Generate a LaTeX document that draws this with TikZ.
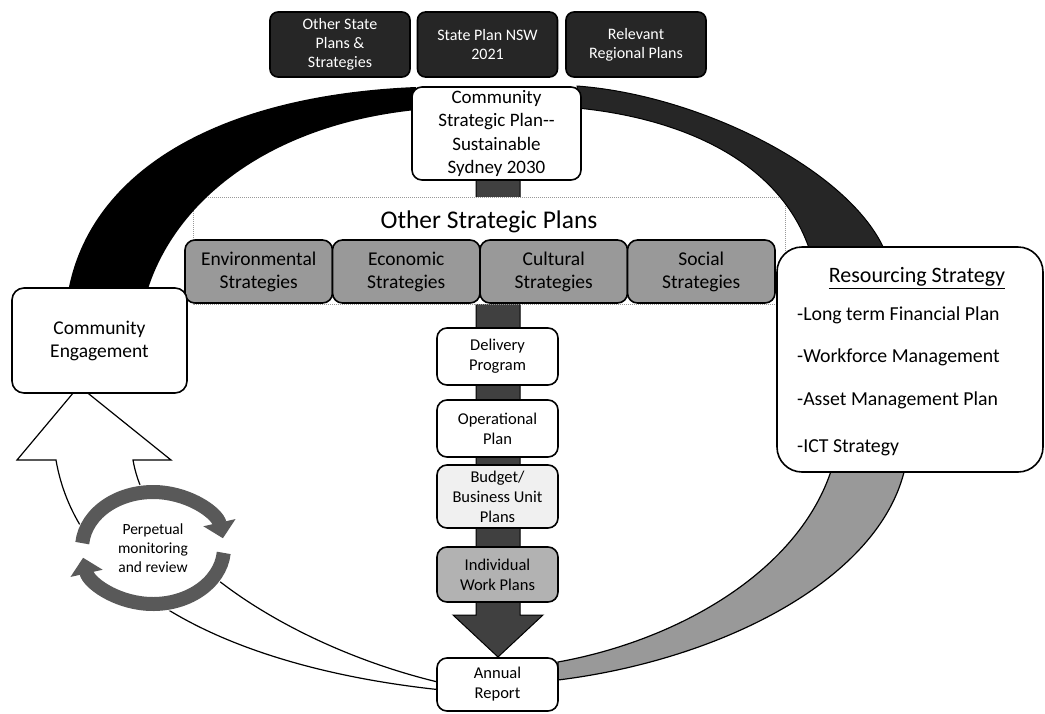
\documentclass[tikz,border=0pt]{standalone}
\usepackage{fontspec}
\setmainfont{Carlito}
\usetikzlibrary{arrows.meta}
\begin{document}
\begin{tikzpicture}[x=1pt,y=-1pt,
  rbox/.style={draw=black, line width=1.6pt, rounded corners=10pt, fill=white, align=center, inner sep=0pt},
  topbox/.style={rbox, fill=black!85, text=white, rounded corners=8pt, minimum width=140pt, minimum height=65pt, font=\fontsize{16}{19}\selectfont},
  stratbox/.style={rbox, fill=black!40, minimum width=147.5pt, minimum height=63pt, font=\fontsize{19.5}{23}\selectfont},
  colbox/.style={rbox, minimum width=121pt, font=\fontsize{16.5}{20}\selectfont},
  band/.style={draw=black, line width=1.2pt},
  ringarrow/.style={line width=14pt, draw=black!65, -{Triangle[width=32pt,length=16pt]}},
  restext/.style={anchor=west, inner sep=0pt, font=\fontsize{19.8}{24}\selectfont},
]
\useasboundingbox (0,0) rectangle (1045,713);

% central downward arrow (behind everything)
\filldraw[fill=black!75, draw=black, line width=1pt]
  (476,178) -- (476,615) -- (453,615) -- (498,657) -- (543,615) -- (520,615) -- (520,178) -- cycle;

% dotted container of the other strategic plans
\filldraw[densely dotted, draw=black!40, line width=1pt, fill=white] (193,197) rectangle (785,304);
\node[font=\fontsize{25.5}{30}\selectfont, inner sep=0pt] (osp) at (489,222) {Other Strategic Plans};

% band coordinates
\coordinate (b1o) at (68,292);  \coordinate (b1i) at (147,292);
\coordinate (b1e) at (416,87);  \coordinate (b1f) at (416,110);
\coordinate (b2s) at (577,86);  \coordinate (b2t) at (577,108);
\coordinate (b2o) at (885,251); \coordinate (b2i) at (810,251);
\coordinate (b3o) at (905,468); \coordinate (b3i) at (832,468);
\coordinate (b3e) at (558,680); \coordinate (b3f) at (558,662);
\coordinate (b4o) at (442,690); \coordinate (b4i) at (442,683);
\coordinate (hl) at (17,460); \coordinate (hr) at (171,460);
\coordinate (hs1) at (56,460); \coordinate (hs2) at (133,460);
\coordinate (apex) at (79,386);

% left black band: engagement -> strategic plan
\fill[black] (b1o) .. controls (90,170) and (220,95) .. (b1e) -- (b1f)
  .. controls (270,125) and (175,200) .. (b1i) -- cycle;
% top right band: strategic plan -> resourcing
\filldraw[fill=black!85, draw=black, line width=1pt] (b2s) .. controls (700,95) and (850,170) .. (b2o)
  -- (b2i) .. controls (780,160) and (680,118) .. (b2t) -- cycle;
% right gray band: resourcing -> annual report
\filldraw[fill=black!40, band] (b3o) .. controls (880,580) and (720,660) .. (b3e)
  -- (b3f) .. controls (680,640) and (800,570) .. (b3i) -- cycle;
% white band with block arrow: annual report -> engagement
\filldraw[fill=white, band] (b4o) .. controls (250,670) and (80,600) .. (hs1)
  -- (hl) -- (apex) -- (hr) -- (hs2) .. controls (150,560) and (300,650) .. (b4i) -- cycle;

% perpetual monitoring ring
\coordinate (rc) at (153,548);
\fill[white] (rc) ellipse [x radius=79, y radius=64];
\draw[ringarrow] (rc) ++(185:71 and 56) arc[start angle=185, end angle=350, x radius=71, y radius=56];
\draw[ringarrow] (rc) ++(5:71 and 56) arc[start angle=5, end angle=170, x radius=71, y radius=56];
\node[align=center, inner sep=0pt, font=\fontsize{15.5}{19}\selectfont] (pm) at (rc) {Perpetual\\monitoring\\and review};

% top boxes
\node[topbox] (osps) at (340,44.5) {Other State\\Plans \&\\Strategies};
\node[topbox] (spn) at (487.5,44.5) {State Plan NSW\\2021};
\node[topbox] (rrp) at (636,44.5) {Relevant\\Regional Plans};

% community strategic plan
\node[rbox, minimum width=169pt, minimum height=93pt, font=\fontsize{19}{23.5}\selectfont] (csp) at (496.5,133.5)
  {Community\\Strategic Plan-{}-\\Sustainable\\Sydney 2030};

% strategies
\node[stratbox] (env) at (258.75,271.5) {Environmental\\Strategies};
\node[stratbox] (eco) at (406.25,271.5) {Economic\\Strategies};
\node[stratbox] (cul) at (553.75,271.5) {Cultural\\Strategies};
\node[stratbox] (soc) at (701.25,271.5) {Social\\Strategies};

% community engagement
\node[rbox, rounded corners=12pt, minimum width=175pt, minimum height=105pt, font=\fontsize{19.5}{23}\selectfont] (ce) at (99.5,340.5)
  {Community\\Engagement};

% central column
\node[colbox, minimum height=57pt] (dp) at (497.5,356.5) {Delivery\\Program};
\node[colbox, minimum height=57pt] (op) at (497.5,428.5) {Operational\\Plan};
\node[colbox, minimum height=63pt, fill=black!6] (bu) at (497.5,496.5) {Budget/\\Business Unit\\Plans};
\node[colbox, minimum height=55pt, fill=black!30] (iw) at (497.5,574.5) {Individual\\Work Plans};
\node[colbox, minimum height=53pt] (ar) at (497.5,684.5) {Annual\\Report};

% resourcing strategy
\node[rbox, rounded corners=25pt, minimum width=266pt, minimum height=225pt] (res) at (910,359.5) {};
\node[inner sep=0pt, font=\fontsize{22}{26}\selectfont] (rt) at (917,278) {\underline{Resourcing Strategy}};
\node[restext] (r1) at (797,315) {-Long term Financial Plan};
\node[restext] (r2) at (797,357) {-Workforce Management};
\node[restext] (r3) at (797,400) {-Asset Management Plan};
\node[restext] (r4) at (797,448) {-ICT Strategy};
\end{tikzpicture}
\end{document}
